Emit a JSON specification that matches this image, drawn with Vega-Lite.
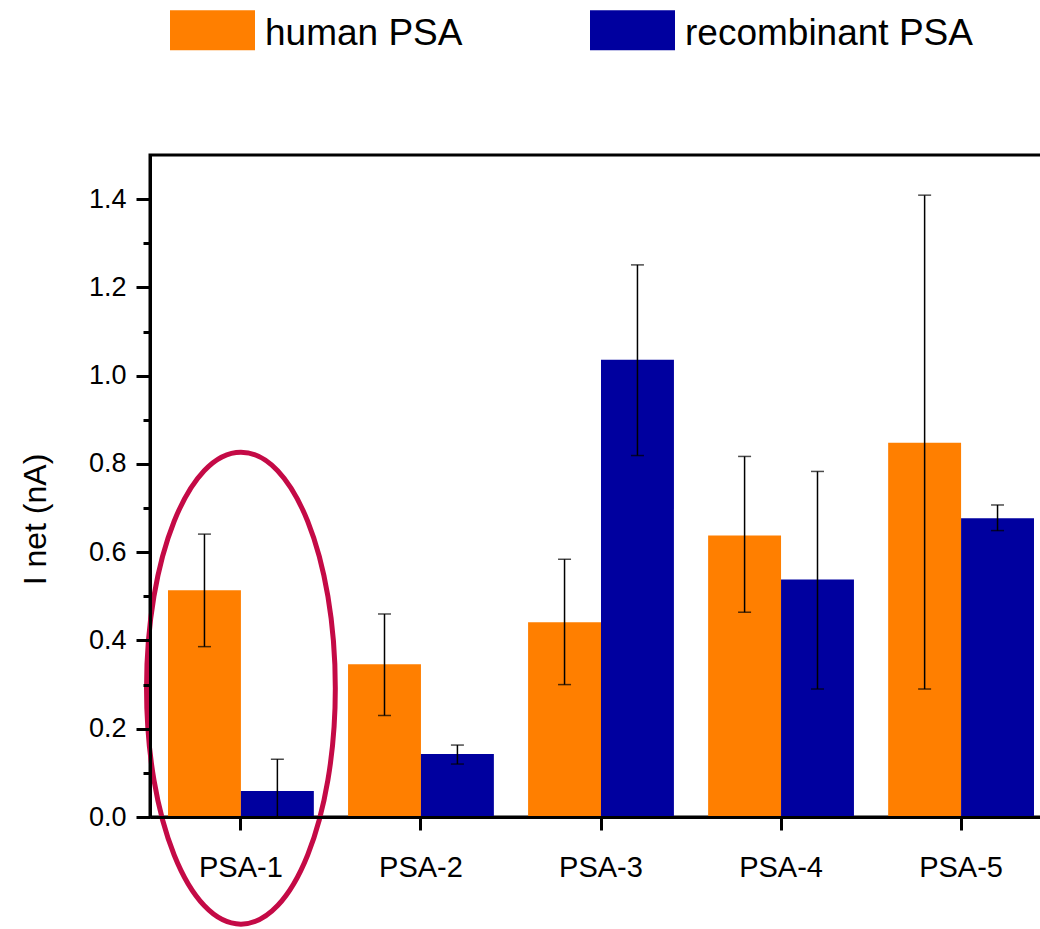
{
  "$schema": "https://vega.github.io/schema/vega-lite/v6.json",
  "width": 902,
  "height": 662,
  "padding": {"left": 19, "top": 10, "right": 0, "bottom": 0},
  "config": {
    "view": {"stroke": "black", "strokeWidth": 3},
    "font": "Liberation Sans"
  },
  "datasets": {
    "bars": [
      {"category": "PSA-1", "type": "human PSA", "value": 0.514, "lower": 0.386, "upper": 0.641},
      {"category": "PSA-1", "type": "recombinant PSA", "value": 0.059, "lower": 0.0, "upper": 0.131},
      {"category": "PSA-2", "type": "human PSA", "value": 0.346, "lower": 0.23, "upper": 0.46},
      {"category": "PSA-2", "type": "recombinant PSA", "value": 0.143, "lower": 0.12, "upper": 0.163},
      {"category": "PSA-3", "type": "human PSA", "value": 0.441, "lower": 0.30, "upper": 0.584},
      {"category": "PSA-3", "type": "recombinant PSA", "value": 1.036, "lower": 0.819, "upper": 1.251},
      {"category": "PSA-4", "type": "human PSA", "value": 0.638, "lower": 0.464, "upper": 0.817},
      {"category": "PSA-4", "type": "recombinant PSA", "value": 0.538, "lower": 0.29, "upper": 0.783},
      {"category": "PSA-5", "type": "human PSA", "value": 0.848, "lower": 0.29, "upper": 1.409},
      {"category": "PSA-5", "type": "recombinant PSA", "value": 0.677, "lower": 0.649, "upper": 0.707}
    ],
    "highlight": [
      {"category": "PSA-1", "y": 0.292}
    ]
  },
  "layer": [
    {
      "data": {"name": "bars"},
      "mark": {"type": "bar"},
      "encoding": {
        "x": {
          "field": "category", "type": "nominal",
          "scale": {"paddingInner": 0.19, "paddingOuter": 0.1},
          "axis": {
            "title": null, "labelAngle": 0, "labelFontSize": 29, "labelColor": "black",
            "tickSize": 13, "tickWidth": 3, "tickColor": "black",
            "domainWidth": 3, "domainColor": "black", "labelPadding": 23, "zindex": 1
          }
        },
        "xOffset": {"field": "type", "type": "nominal", "scale": {"paddingInner": 0, "paddingOuter": 0}},
        "y": {
          "field": "value", "type": "quantitative",
          "scale": {"domain": [0, 1.5], "nice": false},
          "axis": {
            "values": [0, 0.1, 0.2, 0.3, 0.4, 0.5, 0.6, 0.7, 0.8, 0.9, 1.0, 1.1, 1.2, 1.3, 1.4],
            "labelExpr": "round(datum.value*10) % 2 == 1 ? '' : format(datum.value, '.1f')",
            "tickSize": {"condition": {"test": "round(datum.value*10) % 2 == 1", "value": 7}, "value": 14},
            "tickWidth": 3, "tickColor": "black",
            "domainWidth": 3, "domainColor": "black",
            "labelFontSize": 27, "labelColor": "black", "labelPadding": 10,
            "title": "I net (nA)", "titleFontSize": 32, "titleFontWeight": "normal", "titleColor": "black",
            "titlePadding": 36, "titleY": 364, "grid": false, "zindex": 1
          }
        },
        "color": {
          "field": "type", "type": "nominal",
          "scale": {"domain": ["human PSA", "recombinant PSA"], "range": ["#FF7F00", "#00009F"]},
          "legend": {
            "title": null, "orient": "none", "legendX": 20, "legendY": -145,
            "direction": "horizontal",
            "symbolType": "M-1,-1H1V-0.06H-1Z", "symbolSize": 7225, "symbolStrokeWidth": 0,
            "labelFontSize": 37, "labelOffset": 10, "labelColor": "black", "labelLimit": 400,
            "labelBaseline": "bottom",
            "columnPadding": 127, "padding": 0
          }
        }
      }
    },
    {
      "data": {"name": "bars"},
      "mark": {"type": "rule", "color": "black", "strokeWidth": 1.5},
      "encoding": {
        "x": {"field": "category", "type": "nominal"},
        "xOffset": {"field": "type", "type": "nominal"},
        "y": {"field": "lower", "type": "quantitative"},
        "y2": {"field": "upper"}
      }
    },
    {
      "data": {"name": "bars"},
      "mark": {"type": "tick", "color": "black", "thickness": 1.5, "size": 13, "orient": "horizontal"},
      "encoding": {
        "x": {"field": "category", "type": "nominal"},
        "xOffset": {"field": "type", "type": "nominal"},
        "y": {"field": "upper", "type": "quantitative"}
      }
    },
    {
      "data": {"name": "bars"},
      "mark": {"type": "tick", "color": "black", "thickness": 1.5, "size": 13, "orient": "horizontal"},
      "encoding": {
        "x": {"field": "category", "type": "nominal"},
        "xOffset": {"field": "type", "type": "nominal"},
        "y": {"field": "lower", "type": "quantitative"}
      }
    },
    {
      "data": {"name": "highlight"},
      "mark": {
        "type": "point",
        "shape": "M-0.4,0A0.4,1,0,1,1,0.4,0A0.4,1,0,1,1,-0.4,0Z",
        "size": 222784, "filled": false, "stroke": "#C40A46", "strokeWidth": 5, "opacity": 1
      },
      "encoding": {
        "x": {"field": "category", "type": "nominal"},
        "y": {"field": "y", "type": "quantitative"}
      }
    }
  ]
}
